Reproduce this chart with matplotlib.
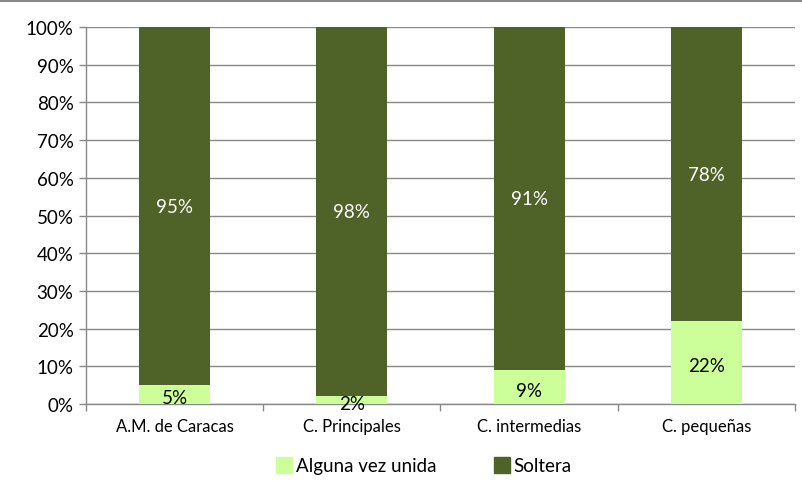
import numpy as np
import matplotlib.pyplot as plt
from matplotlib.lines import Line2D

categorias = ["A.M. de Caracas", "C. Principales", "C. intermedias", "C. pequeñas"]
unida = [5, 2, 9, 22]
soltera = [95, 98, 91, 78]

c_unida = "#CCFF99"
c_soltera = "#4F6228"
gris = "#898989"

plt.rcParams['font.family'] = ['Lato', 'DejaVu Sans']

fig = plt.figure(figsize=(8.03, 4.89), dpi=100)
ax = fig.add_axes([0.1071, 0.1718, 0.8829, 0.7709])

x = np.arange(len(categorias))
b1 = ax.bar(x, unida, width=0.4, color=c_unida, label="Alguna vez unida", zorder=3)
b2 = ax.bar(x, soltera, width=0.4, bottom=unida, color=c_soltera, label="Soltera", zorder=3)

# etiquetas centradas en cada segmento
for i in range(len(categorias)):
    ax.text(x[i], unida[i] / 2 - 0.8, f"{unida[i]}%", ha="center", va="center",
            fontsize=13.5, color="black", zorder=4)
    ax.text(x[i], unida[i] + soltera[i] / 2, f"{soltera[i]}%", ha="center", va="center",
            fontsize=13.5, color="white", zorder=4)

ax.set_xlim(-0.5, len(categorias) - 0.5)
ax.set_ylim(0, 100)
ax.set_yticks(range(0, 101, 10))
ax.set_yticklabels([f"{v}%" for v in range(0, 101, 10)], fontsize=13.5)
ax.set_xticks(x)
ax.set_xticklabels(categorias, fontsize=12)
ax.tick_params(axis="x", length=0, pad=10)
ax.set_xticks(np.arange(-0.5, len(categorias)), minor=True)
ax.tick_params(axis="x", which="minor", length=5, color=gris, width=1)
ax.tick_params(axis="y", length=5, color=gris, width=1, pad=4)

ax.grid(axis="y", color=gris, linewidth=1, zorder=0)
for s in ["top", "right"]:
    ax.spines[s].set_visible(False)
for s in ["left", "bottom"]:
    ax.spines[s].set_color(gris)
    ax.spines[s].set_linewidth(1)

handles = [Line2D([], [], marker="s", linestyle="", markersize=12, color=c_unida),
           Line2D([], [], marker="s", linestyle="", markersize=12, color=c_soltera)]
fig.legend(handles, ["Alguna vez unida", "Soltera"], loc="center", bbox_to_anchor=(0.527, 0.045),
           ncol=2, frameon=False, fontsize=13.5, handletextpad=0.1, columnspacing=3.0,
           handlelength=1.0)

# borde superior del gráfico
fig.add_artist(Line2D([0, 1], [0.996, 0.996], color=gris, linewidth=1.5))

fig.savefig("out.png", dpi=100)
